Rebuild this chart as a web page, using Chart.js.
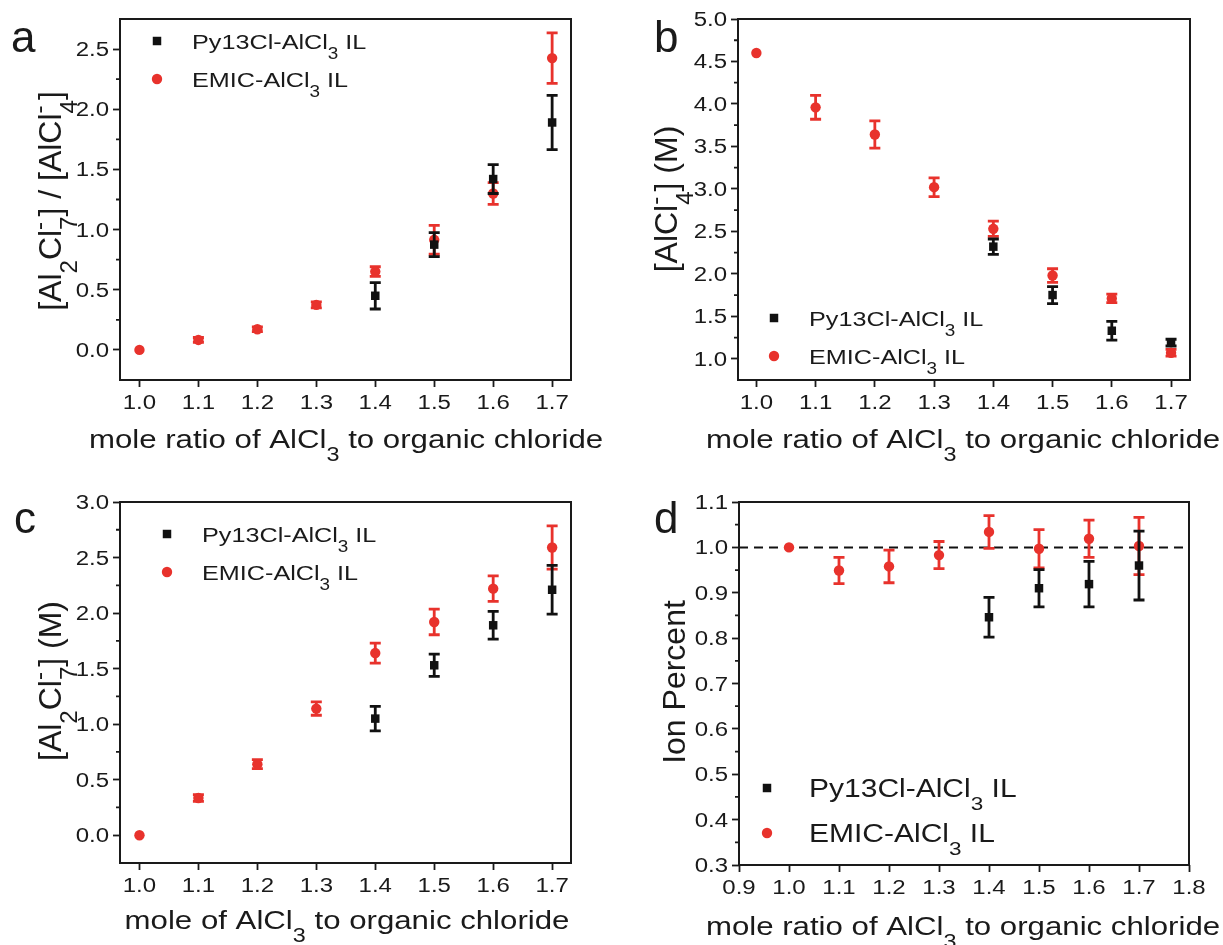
<!DOCTYPE html>
<html>
<head>
<meta charset="utf-8">
<script src="https://cdn.jsdelivr.net/npm/chart.js@4.4.1/dist/chart.umd.min.js"></script>
<style>
  html, body { margin: 0; padding: 0; background: #fff; }
  #fig { position: relative; width: 1223px; height: 945px; overflow: hidden; }
  #fig canvas { position: absolute; }
</style>
</head>
<body>
<div id="fig">
  <canvas id="pa"></canvas>
  <canvas id="pb"></canvas>
  <canvas id="pc"></canvas>
  <canvas id="pd"></canvas>
</div>
<script>
// mole ratio of AlCl3 to organic chloride, shared by every panel
const moleRatio = [1.0, 1.1, 1.2, 1.3, 1.4, 1.5, 1.6, 1.7];
// legend names, "_x" = subscript, "^x" = superscript
const seriesNames = ['Py13Cl-AlCl_3 IL', 'EMIC-AlCl_3 IL'];

// (a) [Al2Cl7-] / [AlCl4-]
const aPy      = [null, null, null, null, 0.45, 0.875, 1.42, 1.89];
const aPyErr   = [null, null, null, null, 0.11, 0.10, 0.12, 0.225];
const aEmic    = [0.0, 0.083, 0.172, 0.374, 0.651, 0.915, 1.30, 2.425];
const aEmicErr = [0, 0.02, 0.02, 0.025, 0.04, 0.12, 0.09, 0.21];

// (b) [AlCl4-] (M)
const bPy      = [null, null, null, null, 2.32, 1.75, 1.33, 1.19];
const bPyErr   = [null, null, null, null, 0.09, 0.10, 0.11, 0.04];
const bEmic    = [4.60, 3.96, 3.64, 3.02, 2.53, 1.98, 1.71, 1.07];
const bEmicErr = [0, 0.14, 0.16, 0.11, 0.09, 0.08, 0.05, 0.04];

// (c) [Al2Cl7-] (M)
const cPy      = [null, null, null, null, 1.05, 1.53, 1.89, 2.21];
const cPyErr   = [null, null, null, null, 0.11, 0.10, 0.125, 0.22];
const cEmic    = [0.0, 0.335, 0.64, 1.14, 1.64, 1.92, 2.22, 2.59];
const cEmicErr = [0, 0.03, 0.04, 0.06, 0.09, 0.115, 0.115, 0.195];

// (d) ion percent
const dPy      = [null, null, null, null, 0.846, 0.910, 0.919, 0.960];
const dPyErr   = [null, null, null, null, 0.044, 0.041, 0.050, 0.076];
const dEmic    = [1.000, 0.949, 0.958, 0.983, 1.034, 0.997, 1.019, 1.003];
const dEmicErr = [0, 0.029, 0.036, 0.030, 0.036, 0.042, 0.041, 0.063];
const dRefLevel = 1.0;

// tick labels
const ratioTicks = [1.0, 1.1, 1.2, 1.3, 1.4, 1.5, 1.6, 1.7];
const dXTicks = [0.9, 1.0, 1.1, 1.2, 1.3, 1.4, 1.5, 1.6, 1.7, 1.8];
const aYTicks = [0.0, 0.5, 1.0, 1.5, 2.0, 2.5];
const bYTicks = [1.0, 1.5, 2.0, 2.5, 3.0, 3.5, 4.0, 4.5, 5.0];
const cYTicks = [0.0, 0.5, 1.0, 1.5, 2.0, 2.5, 3.0];
const dYTicks = [0.3, 0.4, 0.5, 0.6, 0.7, 0.8, 0.9, 1.0, 1.1];

const BLACK = '#111111';
const RED = '#e8322c';
const INK = '#1a1a1a';
const FONT = '"Liberation Sans", Arial, Helvetica, sans-serif';
const HS = 1.2;   // the figure's lettering is drawn a bit wide

function parseRich(str) {
  const segs = [];
  let buf = '', adj = false;
  for (let i = 0; i < str.length; i++) {
    const c = str[i];
    if (c === '_' || c === '^') {
      const key = c === '_' ? 'sub' : 'sup';
      const ch = str[++i];
      if (buf) { segs.push(buf); buf = ''; adj = false; }
      const last = segs[segs.length - 1];
      if (adj && !last[key]) last[key] = ch;
      else segs.push({ [key]: ch });
      adj = true;
    } else {
      buf += c;
      adj = false;
    }
  }
  if (buf) segs.push(buf);
  return segs;
}

function richWidth(ctx, segs, size) {
  let w = 0;
  for (const s of segs) {
    if (typeof s === 'string') {
      ctx.font = size + 'px ' + FONT;
      w += ctx.measureText(s).width;
    } else {
      ctx.font = (size * 0.75) + 'px ' + FONT;
      w += Math.max(s.sub ? ctx.measureText(s.sub).width : 0, s.sup ? ctx.measureText(s.sup).width : 0);
    }
  }
  return w;
}

function drawRich(ctx, text, size, x, y, align, hs, rotate) {
  const segs = parseRich(text);
  ctx.save();
  ctx.translate(x, y);
  if (rotate) ctx.rotate(-Math.PI / 2);
  ctx.scale(hs, 1);
  ctx.textAlign = 'left';
  ctx.textBaseline = 'alphabetic';
  const total = richWidth(ctx, segs, size);
  let cx = align === 'center' ? -total / 2 : (align === 'right' ? -total : 0);
  for (const s of segs) {
    if (typeof s === 'string') {
      ctx.font = size + 'px ' + FONT;
      ctx.fillText(s, cx, 0);
      cx += ctx.measureText(s).width;
    } else {
      ctx.font = (size * 0.75) + 'px ' + FONT;
      let w = 0;
      if (s.sub) { ctx.fillText(s.sub, cx, size * 0.5); w = Math.max(w, ctx.measureText(s.sub).width); }
      if (s.sup) { ctx.fillText(s.sup, cx, -size * 0.45); w = Math.max(w, ctx.measureText(s.sup).width); }
      cx += w;
    }
  }
  ctx.restore();
}

function drawMarker(ctx, style, r, x, y, color) {
  ctx.fillStyle = color;
  ctx.beginPath();
  if (style === 'rect') {
    const h = r * Math.SQRT1_2;
    ctx.rect(x - h, y - h, 2 * h, 2 * h);
  } else {
    ctx.arc(x, y, r, 0, Math.PI * 2);
  }
  ctx.fill();
}

// vertical error bars with caps, drawn under each dataset's markers
const errorBars = {
  id: 'errorBars',
  beforeDatasetDraw(chart, args) {
    const ds = chart.data.datasets[args.index];
    if (!ds.hasErrors) return;
    const xs = chart.scales.x, ys = chart.scales.y, ctx = chart.ctx;
    ctx.save();
    ctx.strokeStyle = ds.borderColor;
    ctx.lineWidth = 2.8;
    ds.data.forEach(p => {
      if (!p.err) return;
      const px = xs.getPixelForValue(p.x);
      const top = ys.getPixelForValue(p.y + p.err);
      const bot = ys.getPixelForValue(p.y - p.err);
      ctx.beginPath();
      ctx.moveTo(px, top); ctx.lineTo(px, bot);
      ctx.moveTo(px - 5.5, top); ctx.lineTo(px + 5.5, top);
      ctx.moveTo(px - 5.5, bot); ctx.lineTo(px + 5.5, bot);
      ctx.stroke();
    });
    ctx.restore();
  }
};

// frame, minor ticks, tick labels, titles, panel letter and legend
const panelDecor = {
  id: 'panelDecor',
  afterDraw(chart, args, o) {
    const ctx = chart.ctx, ca = chart.chartArea;
    const xs = chart.scales.x, ys = chart.scales.y;
    const ox = o.box[0], oy = o.box[1];
    ctx.save();
    ctx.strokeStyle = INK;
    ctx.lineWidth = 2;
    ctx.strokeRect(ca.left, ca.top, ca.right - ca.left, ca.bottom - ca.top);

    ctx.lineWidth = 1.8;
    ctx.beginPath();
    const yt = ys.ticks.map(t => t.value);
    for (let i = 0; i < yt.length - 1; i++) {
      const py = ys.getPixelForValue((yt[i] + yt[i + 1]) / 2);
      ctx.moveTo(ca.left - 4, py); ctx.lineTo(ca.left, py);
    }
    ctx.stroke();

    ctx.fillStyle = INK;
    ys.ticks.forEach(t => {
      drawRich(ctx, t.value.toFixed(1), 20, ca.left - 11, ys.getPixelForValue(t.value) + 7, 'right', HS, false);
    });
    xs.ticks.forEach(t => {
      drawRich(ctx, t.value.toFixed(1), 20, xs.getPixelForValue(t.value), ca.bottom + 29, 'center', HS, false);
    });

    drawRich(ctx, o.xTitle.t, 26, o.xTitle.x - ox, o.xTitle.y - oy, 'center', HS, false);
    drawRich(ctx, o.yTitle.t, 32, o.yTitle.x - ox, o.yTitle.y - oy, 'center', 1, true);
    drawRich(ctx, o.letter.t, 44, o.letter.x - ox, o.letter.y - oy, 'left', 1, false);

    const lg = o.legend;
    chart.data.datasets.slice(0, 2).forEach((ds, i) => {
      const my = lg.y + i * lg.dy - oy;
      drawMarker(ctx, ds.pointStyle, ds.pointRadius, lg.x - ox, my, ds.backgroundColor);
      ctx.fillStyle = INK;
      drawRich(ctx, ds.label, lg.size, lg.tx - ox, my + lg.size * 0.37, 'left', HS, false);
    });
    ctx.restore();
  }
};

function points(vals, errs) {
  return moleRatio
    .map((x, i) => (vals[i] == null ? null : { x: x, y: vals[i], err: errs[i] }))
    .filter(p => p);
}

function makePanel(id, p) {
  const [bx, by, bw, bh] = p.box;
  const [pl, pt, pr, pb] = p.plot;
  const AX = 20;
  const cv = document.getElementById(id);
  cv.width = bw; cv.height = bh;
  cv.style.left = bx + 'px'; cv.style.top = by + 'px';
  cv.style.width = bw + 'px'; cv.style.height = bh + 'px';

  const datasets = [
    { label: seriesNames[0], data: points(p.py, p.pyErr), hasErrors: true,
      pointStyle: 'rect', pointRadius: 6, pointBorderWidth: 0,
      backgroundColor: BLACK, borderColor: BLACK, order: 1 },
    { label: seriesNames[1], data: points(p.emic, p.emicErr), hasErrors: true,
      pointStyle: 'circle', pointRadius: 5.2, pointBorderWidth: 0,
      backgroundColor: RED, borderColor: RED, order: 2 }
  ];
  if (p.refLine != null) {
    datasets.push({
      type: 'line', label: 'ref', order: 3,
      data: [{ x: p.xRange[0], y: p.refLine }, { x: p.xRange[1], y: p.refLine }],
      showLine: true, borderColor: BLACK, borderWidth: 2, borderDash: [9, 6],
      pointRadius: 0, fill: false
    });
  }

  const axis = (range, ticks, isX) => ({
    type: 'linear',
    min: range[0], max: range[1],
    afterBuildTicks: s => { s.ticks = ticks.map(v => ({ value: v })); },
    afterFit: s => { if (isX) s.height = AX; else s.width = AX; },
    ticks: { display: false },
    grid: { display: true, drawOnChartArea: false, drawTicks: true, tickLength: 7,
            tickWidth: 1.8, tickColor: INK },
    border: { display: false }
  });

  return new Chart(cv, {
    type: 'scatter',
    data: { datasets },
    options: {
      responsive: false,
      animation: false,
      events: [],
      layout: { padding: { left: pl - bx - AX, top: pt - by, right: bx + bw - pr, bottom: by + bh - pb - AX } },
      plugins: {
        legend: { display: false },
        tooltip: { enabled: false },
        panelDecor: { box: p.box, xTitle: p.xTitle, yTitle: p.yTitle, letter: p.letter, legend: p.legend }
      },
      scales: { x: axis(p.xRange, p.xTicks, true), y: axis(p.yRange, p.yTicks, false) }
    },
    plugins: [errorBars, panelDecor]
  });
}

makePanel('pa', {
  box: [0, 0, 611, 470], plot: [120, 19, 571, 380],
  xRange: [0.967, 1.732], yRange: [-0.25, 2.75], xTicks: ratioTicks, yTicks: aYTicks,
  py: aPy, pyErr: aPyErr, emic: aEmic, emicErr: aEmicErr,
  xTitle: { t: 'mole ratio of AlCl_3 to organic chloride', x: 346, y: 448 },
  yTitle: { t: '[Al_2Cl_7^-] / [AlCl_4^-]', x: 61, y: 201 },
  letter: { t: 'a', x: 11, y: 52 },
  legend: { x: 157, y: 41, dy: 38, tx: 192, size: 21 }
});

makePanel('pb', {
  box: [611, 0, 612, 470], plot: [738, 19, 1190, 380],
  xRange: [0.969, 1.732], yRange: [0.75, 5.0], xTicks: ratioTicks, yTicks: bYTicks,
  py: bPy, pyErr: bPyErr, emic: bEmic, emicErr: bEmicErr,
  xTitle: { t: 'mole ratio of AlCl_3 to organic chloride', x: 963, y: 448 },
  yTitle: { t: '[AlCl_4^-] (M)', x: 677, y: 199 },
  letter: { t: 'b', x: 654, y: 52 },
  legend: { x: 774, y: 318, dy: 38, tx: 809, size: 21 }
});

makePanel('pc', {
  box: [0, 470, 611, 475], plot: [120, 502, 571, 863],
  xRange: [0.967, 1.732], yRange: [-0.25, 3.0], xTicks: ratioTicks, yTicks: cYTicks,
  py: cPy, pyErr: cPyErr, emic: cEmic, emicErr: cEmicErr,
  xTitle: { t: 'mole of AlCl_3 to organic chloride', x: 347, y: 929 },
  yTitle: { t: '[Al_2Cl_7^-] (M)', x: 61, y: 681 },
  letter: { t: 'c', x: 14, y: 533 },
  legend: { x: 167, y: 534, dy: 38, tx: 202, size: 21 }
});

makePanel('pd', {
  box: [611, 470, 612, 475], plot: [739, 502, 1189, 865],
  xRange: [0.9, 1.8], yRange: [0.3, 1.1], xTicks: dXTicks, yTicks: dYTicks,
  py: dPy, pyErr: dPyErr, emic: dEmic, emicErr: dEmicErr, refLine: dRefLevel,
  xTitle: { t: 'mole ratio of AlCl_3 to organic chloride', x: 963, y: 935 },
  yTitle: { t: 'Ion Percent', x: 685, y: 682 },
  letter: { t: 'd', x: 654, y: 533 },
  legend: { x: 767, y: 788, dy: 45, tx: 809, size: 25 }
});
</script>
</body>
</html>
